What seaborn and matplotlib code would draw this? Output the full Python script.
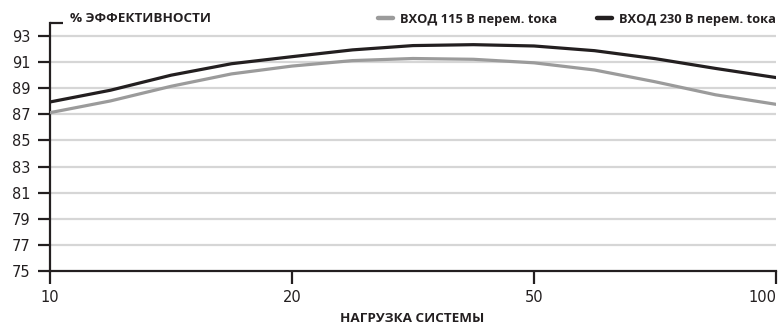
"""
КПД блока питания в зависимости от нагрузки
"""
import matplotlib
import matplotlib.pyplot as plt
import pandas as pd
import seaborn as sns

matplotlib.use("Agg")

# позиции по оси X (равномерная шкала 10-20-50-100), значения читаются с графика
load_labels = ["10", "20", "50", "100"]
pos = [0, 0.25, 0.5, 0.75, 1, 1.25, 1.5, 1.75, 2, 2.25, 2.5, 2.75, 3]
eff_115 = [87.13, 88.03, 89.15, 90.1, 90.7, 91.12, 91.28, 91.22, 90.95,
           90.4, 89.5, 88.5, 87.77]
eff_230 = [87.95, 88.85, 90.0, 90.88, 91.42, 91.94, 92.27, 92.34, 92.24,
           91.88, 91.27, 90.52, 89.82]
series_names = ["ВХОД 115 В перем. tока", "ВХОД 230 В перем. tока"]
series_colors = ["#9b9b9b", "#231f20"]
y_ticks = [75, 77, 79, 81, 83, 85, 87, 89, 91, 93]

df = pd.DataFrame({
    "pos": pos * 2,
    "eff": eff_115 + eff_230,
    "series": [series_names[0]] * len(pos) + [series_names[1]] * len(pos),
})

sns.set_style("white")
plt.rcParams["font.family"] = ["Open Sans", "DejaVu Sans"]

fig = plt.figure(figsize=(7.8, 3.26), dpi=100)
ax = fig.add_axes([50 / 780, 1 - 271 / 326, 726 / 780, 248 / 326])

sns.lineplot(
    data=df, x="pos", y="eff", hue="series",
    palette=dict(zip(series_names, series_colors)),
    linewidth=2.3, ax=ax, legend=False, zorder=3,
)

ax.set_xlim(0, 3)
ax.set_ylim(75, 94)
ax.set_xticks(range(len(load_labels)), load_labels)
ax.set_yticks(y_ticks)
ax.set_yticks([94], minor=True)

# сетка
for v in y_ticks[1:]:
    ax.axhline(v, color="#d6d6d6", linewidth=1.6, zorder=1)

for side in ["top", "right"]:
    ax.spines[side].set_visible(False)
for side in ["left", "bottom"]:
    ax.spines[side].set_color("#231f20")
    ax.spines[side].set_linewidth(1.6)

ax.tick_params(axis="both", which="major", length=9, width=1.6,
               color="#231f20", labelsize=10.5, labelcolor="#231f20",
               bottom=True, left=True)
ax.tick_params(axis="y", which="major", pad=5)
ax.tick_params(axis="x", which="major", pad=5)
ax.tick_params(axis="y", which="minor", direction="in", length=9,
               width=1.6, color="#231f20", left=True)
for lbl in ax.get_xticklabels() + ax.get_yticklabels():
    lbl.set_family("DejaVu Sans")
ax.get_xticklabels()[-1].set_ha("right")
ax.get_xticklabels()[-1].set_x(3)

ax.set_xlabel("")
ax.set_ylabel("")
fig.text(412 / 780, 1 - 318 / 326, "НАГРУЗКА СИСТЕМЫ", ha="center",
         va="center", fontsize=9.7, fontweight="bold", color="#231f20")
fig.text(70 / 780, 1 - 19 / 326, "% ЭФФЕКТИВНОСТИ", ha="left",
         va="center", fontsize=9.7, fontweight="bold", color="#231f20")

handles = [plt.Line2D([], [], color=c, linewidth=3.2) for c in series_colors]
leg = fig.legend(
    handles, series_names, loc="center right",
    bbox_to_anchor=(776 / 780, 1 - 19 / 326), ncol=2, frameon=False,
    handlelength=1.16, handletextpad=0.55, columnspacing=3.1,
    borderaxespad=0, borderpad=0,
    prop={"size": 9.3, "weight": "bold"},
)
for t in leg.get_texts():
    t.set_color("#231f20")

fig.savefig("out.png", dpi=100)
